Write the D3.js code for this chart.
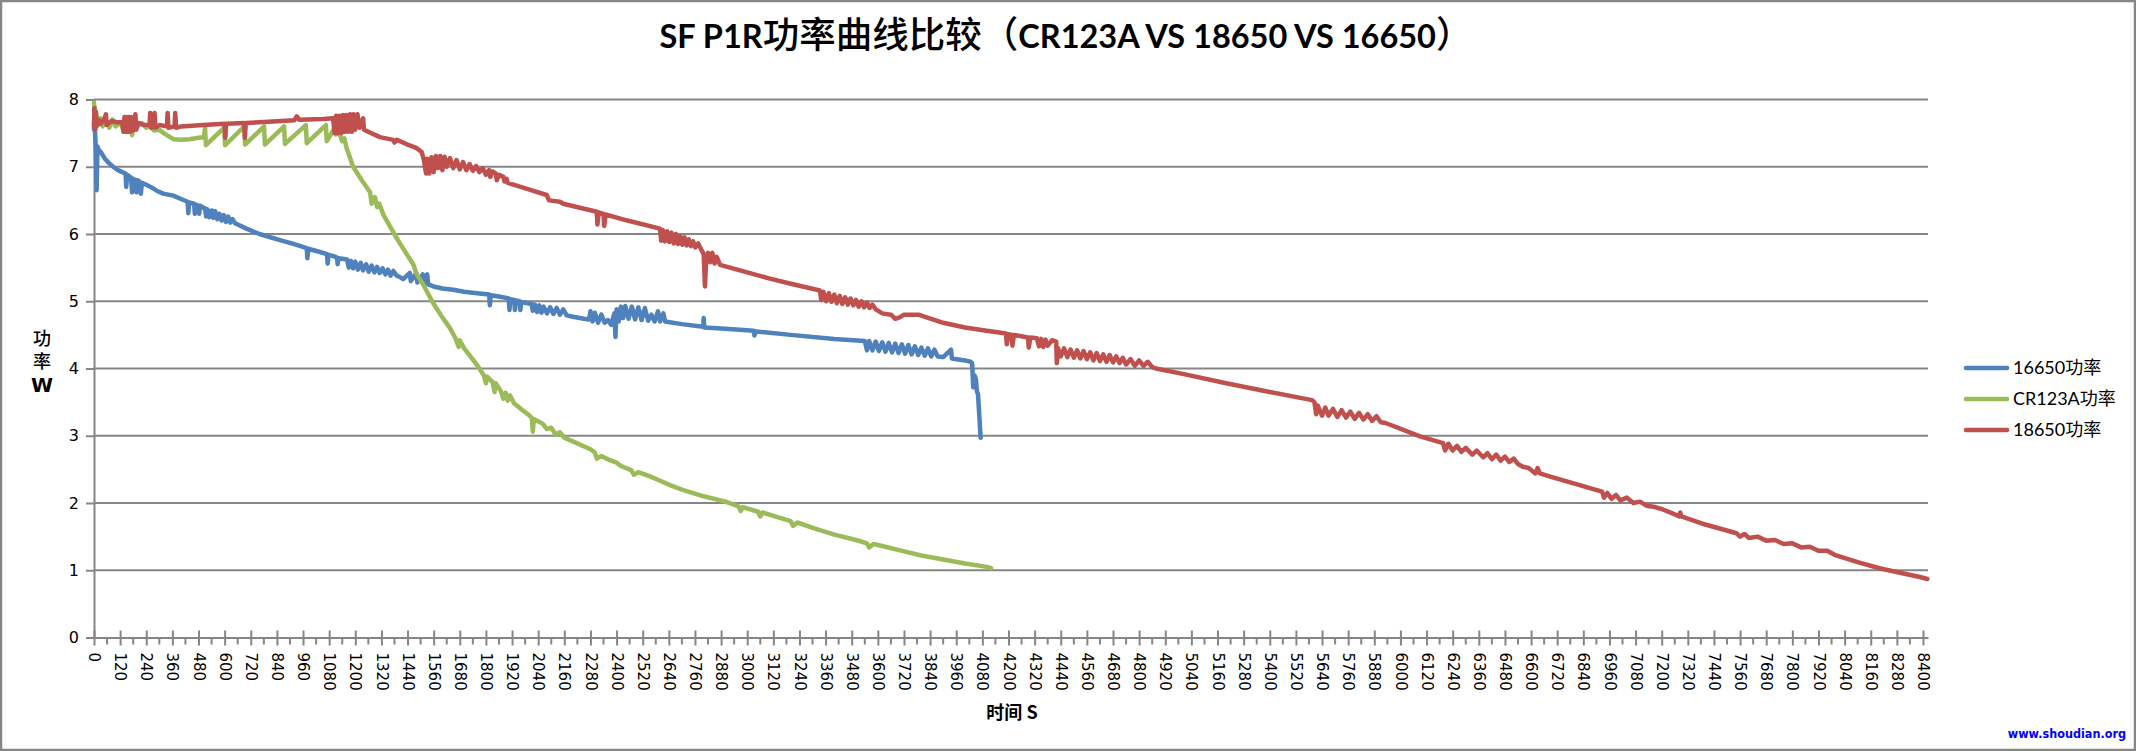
<!DOCTYPE html>
<html><head><meta charset="utf-8">
<script src="https://cdn.jsdelivr.net/npm/d3@7/dist/d3.min.js"></script>
<style>body{margin:0;background:#fff;overflow:hidden}svg{display:block}</style>
</head><body><svg id="c" width="2136" height="751"></svg>
<script>
// ---------- DATA ----------
const titleParts = [["SF P1R","lat"],["功率曲线比较（","cjk"],["CR123A VS 18650 VS 16650","lat"],["）","cjk"]];
const xTitle = "时间 S";
const yTitle = ["功","率","W"];
const watermark = "www.shoudian.org";
const xTicks = [0,120,240,360,480,600,720,840,960,1080,1200,1320,1440,1560,1680,1800,1920,2040,2160,2280,2400,2520,2640,2760,2880,3000,3120,3240,3360,3480,3600,3720,3840,3960,4080,4200,4320,4440,4560,4680,4800,4920,5040,5160,5280,5400,5520,5640,5760,5880,6000,6120,6240,6360,6480,6600,6720,6840,6960,7080,7200,7320,7440,7560,7680,7800,7920,8040,8160,8280,8400];
const yTicks = [0,1,2,3,4,5,6,7,8];
const seriesNames = ["16650功率","CR123A功率","18650功率"];
const seriesColors = ["#4F81BD","#9BBB59","#C0504D"];

// [time s, power W]
const p16650 = [[0,7.55],[2,7.88],[5,7.5],[8,7.3],[12,6.65],[16,7.3],[22,7.25],[35,7.2],[50,7.12],[70,7.05],[88,7.0],[110,6.95],[130,6.92],[145,6.9],[148,6.7],[152,6.88],[170,6.84],[175,6.62],[180,6.82],[190,6.8],[195,6.62],[200,6.8],[210,6.78],[215,6.6],[220,6.76],[235,6.74],[260,6.7],[290,6.64],[318,6.6],[364,6.57],[400,6.52],[430,6.48],[433,6.31],[437,6.47],[460,6.45],[463,6.3],[467,6.44],[480,6.42],[483,6.3],[487,6.42],[510,6.38],[515,6.26],[520,6.37],[530,6.25],[540,6.35],[548,6.24],[556,6.34],[566,6.22],[576,6.3],[586,6.2],[596,6.28],[606,6.18],[616,6.26],[626,6.17],[636,6.22],[648,6.16],[700,6.08],[760,6.0],[854,5.91],[920,5.85],[977,5.79],[980,5.64],[984,5.78],[1030,5.74],[1070,5.7],[1073,5.56],[1077,5.69],[1100,5.67],[1116,5.65],[1119,5.55],[1123,5.64],[1162,5.62],[1170,5.5],[1180,5.6],[1190,5.49],[1200,5.59],[1212,5.47],[1225,5.57],[1236,5.46],[1250,5.55],[1262,5.44],[1275,5.53],[1288,5.43],[1300,5.51],[1312,5.42],[1325,5.49],[1338,5.4],[1350,5.47],[1362,5.38],[1375,5.45],[1390,5.38],[1405,5.36],[1420,5.33],[1450,5.42],[1455,5.3],[1480,5.42],[1485,5.28],[1510,5.4],[1515,5.26],[1530,5.4],[1535,5.25],[1560,5.22],[1600,5.19],[1650,5.17],[1700,5.14],[1760,5.12],[1815,5.1],[1818,4.94],[1822,5.09],[1860,5.07],[1905,5.04],[1908,4.87],[1912,5.03],[1930,5.02],[1933,4.87],[1937,5.01],[1955,5.0],[1958,4.87],[1962,4.99],[2010,4.96],[2015,4.86],[2025,4.95],[2035,4.84],[2045,4.94],[2055,4.83],[2065,4.92],[2080,4.82],[2095,4.91],[2110,4.81],[2125,4.9],[2140,4.8],[2155,4.88],[2171,4.79],[2200,4.77],[2250,4.74],[2274,4.73],[2280,4.85],[2290,4.7],[2300,4.83],[2315,4.68],[2330,4.8],[2345,4.68],[2360,4.72],[2375,4.65],[2390,4.82],[2395,4.47],[2400,4.88],[2410,4.7],[2420,4.92],[2430,4.75],[2440,4.93],[2455,4.74],[2470,4.92],[2485,4.73],[2500,4.91],[2515,4.72],[2530,4.9],[2545,4.71],[2560,4.8],[2575,4.7],[2590,4.85],[2600,4.7],[2615,4.82],[2623,4.7],[2700,4.66],[2798,4.62],[2800,4.75],[2803,4.61],[2900,4.59],[3030,4.56],[3033,4.49],[3040,4.55],[3200,4.5],[3400,4.44],[3540,4.41],[3550,4.27],[3560,4.41],[3575,4.27],[3590,4.4],[3605,4.26],[3620,4.39],[3635,4.25],[3650,4.38],[3665,4.24],[3680,4.37],[3695,4.23],[3710,4.36],[3725,4.22],[3740,4.35],[3755,4.21],[3770,4.33],[3785,4.2],[3800,4.31],[3815,4.19],[3830,4.3],[3845,4.18],[3860,4.28],[3875,4.18],[3900,4.17],[3936,4.28],[3940,4.15],[4000,4.12],[4026,4.1],[4033,4.08],[4038,3.72],[4043,3.9],[4050,3.85],[4055,3.66],[4060,3.62],[4072,2.97]];

const pCR123A = [[0,7.95],[4,7.7],[10,7.8],[18,7.62],[28,7.72],[40,7.6],[55,7.68],[70,7.58],[85,7.7],[100,7.6],[120,7.66],[135,7.55],[150,7.63],[165,7.66],[175,7.47],[180,7.62],[200,7.62],[220,7.65],[240,7.58],[255,7.62],[275,7.54],[300,7.55],[320,7.5],[340,7.46],[365,7.41],[400,7.4],[440,7.41],[480,7.43],[505,7.44],[510,7.58],[514,7.32],[598,7.58],[602,7.32],[690,7.6],[694,7.33],[781,7.6],[785,7.33],[873,7.6],[877,7.34],[973,7.62],[977,7.35],[1065,7.62],[1069,7.38],[1100,7.55],[1110,7.48],[1125,7.52],[1140,7.38],[1150,7.42],[1160,7.28],[1190,7.0],[1230,6.8],[1268,6.62],[1275,6.45],[1290,6.55],[1300,6.4],[1310,6.45],[1330,6.28],[1390,5.94],[1405,5.86],[1466,5.55],[1482,5.4],[1512,5.25],[1558,4.97],[1600,4.76],[1635,4.6],[1660,4.45],[1675,4.32],[1680,4.42],[1700,4.3],[1764,4.03],[1790,3.9],[1800,3.78],[1805,3.88],[1830,3.8],[1840,3.65],[1845,3.78],[1869,3.66],[1880,3.55],[1890,3.64],[1900,3.52],[1910,3.6],[1930,3.48],[1960,3.4],[2000,3.3],[2011,3.26],[2015,3.06],[2020,3.25],[2060,3.18],[2080,3.1],[2100,3.12],[2120,3.02],[2140,3.05],[2160,2.97],[2204,2.91],[2280,2.8],[2300,2.75],[2310,2.66],[2330,2.7],[2360,2.65],[2400,2.6],[2420,2.55],[2467,2.49],[2480,2.42],[2500,2.46],[2550,2.4],[2600,2.33],[2643,2.27],[2700,2.2],[2800,2.1],[2900,2.02],[2960,1.95],[2970,1.88],[2980,1.94],[3050,1.87],[3060,1.8],[3070,1.86],[3150,1.78],[3200,1.73],[3210,1.66],[3230,1.71],[3312,1.62],[3400,1.53],[3500,1.45],[3550,1.4],[3560,1.34],[3580,1.39],[3620,1.36],[3697,1.3],[3800,1.22],[3900,1.16],[4000,1.1],[4100,1.05],[4120,1.03]];

const p18650 = [[0,7.6],[2,7.87],[5,7.55],[8,7.82],[12,7.6],[20,7.7],[30,7.64],[45,7.7],[55,7.78],[58,7.62],[80,7.68],[110,7.66],[130,7.66],[135,7.52],[140,7.74],[145,7.52],[150,7.74],[155,7.52],[160,7.74],[165,7.52],[170,7.74],[180,7.54],[190,7.78],[194,7.55],[205,7.65],[230,7.62],[255,7.62],[258,7.8],[262,7.58],[275,7.62],[278,7.8],[282,7.58],[300,7.62],[335,7.6],[338,7.8],[342,7.58],[370,7.6],[373,7.8],[377,7.58],[400,7.6],[500,7.62],[600,7.64],[603,7.43],[607,7.64],[690,7.65],[693,7.43],[697,7.65],[800,7.67],[920,7.69],[931,7.75],[942,7.7],[1050,7.71],[1098,7.72],[1105,7.5],[1112,7.76],[1120,7.5],[1128,7.76],[1136,7.5],[1144,7.77],[1152,7.52],[1160,7.77],[1168,7.52],[1176,7.78],[1184,7.52],[1192,7.78],[1200,7.55],[1210,7.78],[1220,7.58],[1236,7.72],[1240,7.55],[1313,7.44],[1374,7.4],[1380,7.36],[1390,7.4],[1405,7.38],[1440,7.33],[1480,7.28],[1505,7.22],[1515,7.1],[1525,6.9],[1530,7.12],[1540,6.9],[1550,7.14],[1560,6.92],[1570,7.16],[1580,6.98],[1590,7.16],[1600,6.95],[1610,7.15],[1620,7.0],[1635,7.13],[1650,6.98],[1665,7.1],[1680,6.96],[1695,7.07],[1710,6.95],[1725,7.04],[1740,6.94],[1755,7.01],[1770,6.92],[1785,6.98],[1800,6.88],[1815,6.95],[1820,6.85],[1830,6.93],[1845,6.9],[1850,6.8],[1860,6.88],[1880,6.85],[1885,6.78],[1895,6.82],[1900,6.76],[2000,6.66],[2079,6.58],[2090,6.5],[2140,6.48],[2155,6.45],[2309,6.33],[2312,6.14],[2318,6.32],[2340,6.3],[2343,6.12],[2350,6.29],[2450,6.2],[2599,6.08],[2605,5.9],[2612,6.06],[2622,5.89],[2632,6.04],[2642,5.88],[2652,6.02],[2662,5.86],[2672,6.0],[2682,5.85],[2692,5.97],[2702,5.84],[2712,5.95],[2722,5.83],[2732,5.92],[2742,5.82],[2752,5.89],[2762,5.8],[2775,5.86],[2790,5.76],[2800,5.7],[2806,5.22],[2812,5.65],[2820,5.72],[2830,5.58],[2840,5.72],[2850,5.56],[2860,5.66],[2875,5.54],[3000,5.43],[3100,5.34],[3200,5.26],[3334,5.16],[3340,5.02],[3350,5.14],[3362,5.0],[3375,5.12],[3387,4.99],[3400,5.1],[3412,4.97],[3425,5.08],[3437,4.96],[3450,5.06],[3462,4.95],[3475,5.04],[3487,4.94],[3500,5.02],[3512,4.92],[3525,5.0],[3537,4.91],[3550,4.98],[3562,4.9],[3575,4.95],[3590,4.88],[3600,4.86],[3620,4.82],[3660,4.8],[3680,4.74],[3700,4.76],[3720,4.8],[3786,4.8],[3900,4.68],[4000,4.61],[4100,4.56],[4189,4.52],[4192,4.36],[4200,4.51],[4215,4.5],[4218,4.34],[4225,4.5],[4290,4.46],[4293,4.31],[4300,4.46],[4330,4.45],[4340,4.33],[4350,4.44],[4360,4.32],[4370,4.43],[4380,4.34],[4400,4.42],[4419,4.4],[4422,4.08],[4428,4.3],[4440,4.18],[4455,4.3],[4470,4.17],[4485,4.28],[4500,4.16],[4515,4.27],[4530,4.15],[4545,4.26],[4560,4.14],[4575,4.24],[4590,4.12],[4605,4.23],[4620,4.11],[4635,4.21],[4650,4.1],[4665,4.2],[4680,4.09],[4695,4.18],[4710,4.08],[4725,4.16],[4740,4.06],[4760,4.14],[4780,4.04],[4800,4.12],[4820,4.04],[4840,4.1],[4860,4.02],[4877,4.0],[5000,3.92],[5200,3.78],[5400,3.65],[5594,3.53],[5605,3.5],[5613,3.32],[5620,3.45],[5640,3.3],[5655,3.42],[5670,3.3],[5690,3.4],[5710,3.28],[5730,3.38],[5750,3.27],[5770,3.36],[5790,3.25],[5810,3.34],[5830,3.24],[5850,3.32],[5870,3.22],[5890,3.29],[5910,3.2],[5932,3.19],[6090,2.99],[6196,2.89],[6205,2.78],[6220,2.88],[6240,2.78],[6260,2.85],[6280,2.76],[6300,2.82],[6330,2.72],[6350,2.78],[6380,2.68],[6400,2.74],[6420,2.65],[6440,2.72],[6460,2.63],[6480,2.69],[6500,2.61],[6520,2.66],[6540,2.58],[6562,2.54],[6589,2.52],[6620,2.44],[6630,2.52],[6640,2.44],[6700,2.38],[6926,2.17],[6935,2.08],[6950,2.15],[6970,2.06],[6990,2.12],[7010,2.04],[7040,2.08],[7070,2.0],[7100,2.02],[7130,1.96],[7170,1.94],[7208,1.9],[7282,1.8],[7285,1.86],[7290,1.8],[7400,1.68],[7544,1.55],[7560,1.5],[7580,1.54],[7600,1.48],[7640,1.5],[7680,1.44],[7720,1.45],[7760,1.39],[7800,1.4],[7840,1.34],[7880,1.35],[7920,1.29],[7960,1.29],[7994,1.23],[8100,1.12],[8200,1.03],[8300,0.96],[8386,0.9],[8420,0.87]];

const seriesData = [p16650, pCR123A, p18650];

// ---------- DRAW ----------
const svg = d3.select("#c");
const GRID = "#868686";
const LAT = "Lato, 'Noto Sans CJK SC', sans-serif";
const CJK = "'Noto Sans CJK SC', sans-serif";
const DJV = "'DejaVu Sans', Verdana, sans-serif";

svg.append("rect").attr("x",0).attr("y",0).attr("width",2136).attr("height",751).attr("fill","#fff");

const x = d3.scaleLinear().domain([0,8423]).range([94,1928]);
const y = d3.scaleLinear().domain([0,8]).range([637.5,99.5]);

// gridlines
svg.append("g").selectAll("line").data(yTicks.filter(v=>v>0)).join("line")
  .attr("x1",x(0)).attr("x2",x.range()[1]).attr("y1",d=>y(d)).attr("y2",d=>y(d))
  .attr("stroke",GRID).attr("stroke-width",2);

// y axis
const gy = svg.append("g").attr("transform",`translate(${x(0)},0)`)
  .call(d3.axisLeft(y).tickValues(yTicks).tickSize(8).tickSizeOuter(0).tickPadding(7).tickFormat(d3.format("d")));
gy.select(".domain").attr("stroke",GRID).attr("stroke-width",2);
gy.selectAll(".tick line").attr("stroke",GRID).attr("stroke-width",2);
gy.selectAll(".tick text").attr("font-family",DJV).attr("font-size",16).attr("fill","#000");

// x axis
const gx = svg.append("g").attr("transform",`translate(0,${y(0)})`)
  .call(d3.axisBottom(x).tickValues(xTicks).tickSize(8).tickSizeOuter(0).tickFormat(d3.format("d")));
gx.select(".domain").attr("stroke",GRID).attr("stroke-width",2);
gx.selectAll(".tick line").attr("stroke",GRID).attr("stroke-width",2).attr("y1",-7).attr("y2",8);
gx.selectAll(".tick text").attr("font-family",DJV).attr("font-size",15).attr("fill","#000")
  .attr("transform","rotate(90)").attr("x",15).attr("y",0).attr("dy","0.36em").attr("text-anchor","start");
const minor = xTicks.slice(1).map((t,i)=>(t+xTicks[i])/2);
gx.append("g").selectAll("line").data(minor).join("line")
  .attr("x1",d=>x(d)).attr("x2",d=>x(d)).attr("y1",0).attr("y2",7)
  .attr("stroke",GRID).attr("stroke-width",2);

// series
const line = d3.line().x(d=>x(d[0])).y(d=>y(d[1]));
svg.append("g").selectAll("path").data(seriesData).join("path")
  .attr("d",line).attr("fill","none")
  .attr("stroke",(d,i)=>seriesColors[i]).attr("stroke-width",4.5)
  .attr("stroke-linejoin","round").attr("stroke-linecap","round");

// title
const tt = svg.append("text").attr("x",1066).attr("y",48).attr("text-anchor","middle").attr("fill","#000");
titleParts.forEach(([s,k])=>{
  tt.append("tspan").text(s)
    .attr("font-family",k==="lat"?LAT:CJK)
    .attr("font-size",k==="lat"?32.5:36.5)
    .attr("font-weight",k==="lat"?700:500);
});

// axis titles
svg.append("text").attr("x",1012).attr("y",719).attr("text-anchor","middle")
  .attr("font-family",CJK).attr("font-weight",700).attr("font-size",18).attr("fill","#000").text(xTitle);
const yt = svg.append("g");
yt.append("text").attr("x",42).attr("y",345).text(yTitle[0]);
yt.append("text").attr("x",42).attr("y",368).text(yTitle[1]);
yt.selectAll("text").attr("text-anchor","middle").attr("font-family",CJK).attr("font-size",18).attr("font-weight",500).attr("fill","#000");
yt.append("text").attr("x",42).attr("y",392).attr("text-anchor","middle")
  .attr("font-family",DJV).attr("font-weight",700).attr("font-size",20).attr("fill","#000").text(yTitle[2]);

// legend
const lg = svg.append("g").selectAll("g").data(seriesNames).join("g")
  .attr("transform",(d,i)=>`translate(0,${368+i*31})`);
lg.append("line").attr("x1",1966).attr("x2",2007).attr("y1",0).attr("y2",0)
  .attr("stroke",(d,i)=>seriesColors[i]).attr("stroke-width",4.5).attr("stroke-linecap","round");
lg.append("text").attr("x",2013).attr("y",0).attr("dy","0.35em")
  .attr("font-family",LAT).attr("font-size",18).attr("fill","#000").text(d=>d);

// watermark
svg.append("text").attr("x",2126).attr("y",738).attr("text-anchor","end")
  .attr("font-family","'DejaVu Sans Condensed','DejaVu Sans',sans-serif").attr("font-weight",700).attr("font-size",12.5)
  .attr("fill","#0000FF").text(watermark);

// outer border
svg.append("rect").attr("x",1).attr("y",1).attr("width",2134).attr("height",749)
  .attr("fill","none").attr("stroke",GRID).attr("stroke-width",2.5);
</script></body></html>
